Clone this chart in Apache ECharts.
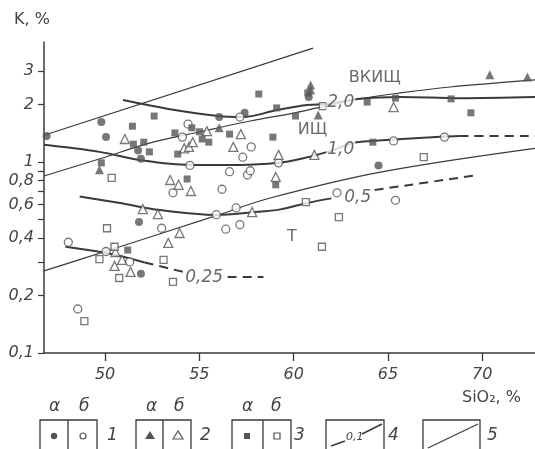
<!DOCTYPE html>
<html>
<head>
<meta charset="utf-8">
<script src="https://cdn.jsdelivr.net/npm/echarts@6/dist/echarts.min.js"></script>
<style>
html, body { margin: 0; padding: 0; background: #fff; }
#main { width: 535px; height: 449px; }
</style>
</head>
<body>
<div id="main"></div>
<script>
// точки: [SiO2, K]
var circleFilled = [[46.9,1.37],[49.8,1.62],[50.05,1.35],[51.75,1.15],[51.9,1.04],[56.05,1.72],[57.4,1.81],[60.8,2.19],[51.8,0.485],[51.9,0.26],[64.5,0.96]];
var circleOpen = [[54.4,1.58],[54.1,1.35],[57.15,1.72],[57.75,1.2],[57.3,1.06],[54.5,0.96],[59.2,0.99],[56.6,0.89],[57.55,0.855],[57.7,0.9],[56.2,0.72],[53.6,0.69],[65.3,1.29],[68.0,1.35],[62.3,0.69],[65.4,0.63],[56.95,0.575],[56.4,0.445],[57.15,0.47],[53.0,0.45],[48.05,0.38],[50.05,0.34],[51.3,0.3],[48.55,0.17],[55.9,0.53]];
var triangleFilled = [[49.7,0.91],[56.05,1.51],[60.9,2.53],[60.9,2.38],[61.3,1.76],[70.4,2.86],[72.4,2.79]];
var triangleOpen = [[51.05,1.32],[55.4,1.45],[54.2,1.18],[54.45,1.2],[54.65,1.27],[57.2,1.4],[56.8,1.2],[59.2,1.09],[61.1,1.09],[65.3,1.94],[53.45,0.805],[53.9,0.76],[54.55,0.705],[59.05,0.835],[57.8,0.547],[52.0,0.567],[52.8,0.534],[53.95,0.425],[53.35,0.377],[50.55,0.338],[50.9,0.307],[50.5,0.286],[51.35,0.266]];
var squareFilled = [[52.6,1.74],[51.45,1.54],[52.35,1.13],[52.05,1.27],[51.5,1.24],[49.8,0.99],[53.85,1.1],[53.7,1.42],[54.6,1.51],[55.15,1.32],[55.5,1.27],[55.0,1.44],[56.6,1.4],[58.15,2.27],[59.1,1.92],[60.1,1.74],[60.75,2.3],[58.9,1.35],[59.05,0.76],[54.35,0.815],[63.9,2.06],[65.4,2.16],[68.35,2.14],[69.4,1.81],[64.2,1.27],[51.2,0.346]];
var squareOpen = [[50.35,0.825],[50.1,0.45],[50.5,0.36],[49.7,0.31],[50.75,0.247],[53.1,0.307],[53.6,0.236],[48.9,0.147],[61.55,1.96],[66.9,1.06],[60.65,0.617],[62.4,0.515],[61.5,0.36]];

// границы полей (тонкие линии, 5)
var boundTop = [[46.76,1.38],[61.03,3.95]];
var boundMid = [[46.76,0.845],[49.73,1.04],[52.4,1.26],[55.04,1.44],[57.7,1.64],[60.08,1.81],[61.25,1.92],[63.5,2.14],[65.65,2.3],[68.3,2.47],[72.8,2.69]];
var boundLow = [[46.76,0.269],[50.0,0.34],[55.85,0.522],[58.75,0.648],[64.6,0.886],[72.8,1.18]];

// изолинии (4)
var iso20 = [[50.95,2.11],[53.45,1.89],[56.0,1.74],[57.27,1.72],[59.12,1.87],[60.72,1.99],[61.8,2.01],[63.4,2.14],[65.65,2.19],[68.8,2.16],[72.8,2.19]];
var iso10 = [[46.76,1.23],[49.7,1.13],[51.95,1.02],[54.5,0.965],[57.15,0.965],[59.2,0.99],[60.4,1.04],[61.8,1.13],[63.2,1.26],[64.2,1.29],[65.3,1.31],[68.0,1.36],[68.8,1.37]];
var iso10Dash = [[68.8,1.37],[72.8,1.37]];
var iso05 = [[48.65,0.66],[50.8,0.61],[52.9,0.56],[55.9,0.528],[57.8,0.545],[59.3,0.565],[60.7,0.61],[62.0,0.645]];
var iso05Dash = [[64.3,0.714],[69.8,0.855]];
var iso025 = [[47.9,0.36],[50.3,0.33],[52.1,0.298]];
var iso025Dash = [[52.1,0.298],[54.4,0.262]];
var iso025Tail = [[56.5,0.25],[58.4,0.25]];

var isoLabels = [[62.5,2.04,'2,0'],[62.5,1.16,'1,0'],[63.4,0.65,'0,5'],[55.25,0.248,'0,25']];
var fieldLabels = [[64.3,2.75,'ВКИЩ'],[61.0,1.47,'ИЩ'],[59.9,0.405,'Т']];

var xTicks = [50, 55, 60, 65, 70];
var yTicks = [0.1,0.2,0.3,0.4,0.5,0.6,0.7,0.8,0.9,1,2,3];
var yLabels = [0.1,0.2,0.4,0.6,0.8,1,2,3];

var ink = '#3a3a3a';
var font = 'DejaVu Sans';

function pointSeries(data, symbol, filled, size){
    return {
        type: 'scatter', data: data, symbol: symbol, symbolSize: size, z: 5,
        itemStyle: filled ? {color: '#555'} : {color: '#fff', borderColor: '#555', borderWidth: 1.3}
    };
}
function lineSeries(data, width, dashed){
    return {
        type: 'line', data: data, showSymbol: false, smooth: 0.35, z: 3,
        lineStyle: {color: ink, width: width, type: dashed ? [9, 6] : 'solid'}
    };
}
function txt(x, y, s, size){
    return {type: 'text', x: x, y: y, style: {text: s, fill: '#444', font: 'italic ' + (size || 17) + 'px DejaVu Sans'}};
}

var chart = echarts.init(document.getElementById('main'));

var option = {
    backgroundColor: '#fff',
    animation: false,
    grid: {left: 44, right: 0, top: 42, bottom: 96},
    xAxis: {
        type: 'value', min: 46.76, max: 72.8,
        splitLine: {show: false},
        axisLine: {lineStyle: {color: ink, width: 1.5}},
        axisTick: {customValues: xTicks, length: 8, lineStyle: {color: ink, width: 1.3}},
        axisLabel: {customValues: xTicks, margin: 14, color: '#444', fontFamily: font, fontStyle: 'italic', fontSize: 16}
    },
    yAxis: {
        type: 'log', logBase: 10, min: 0.1, max: 4.25,
        splitLine: {show: false},
        axisLine: {lineStyle: {color: ink, width: 1.5}},
        axisTick: {customValues: yTicks, length: 6, lineStyle: {color: ink, width: 1.2}},
        axisLabel: {
            customValues: yLabels, margin: 10, color: '#444', fontFamily: font, fontStyle: 'italic', fontSize: 16,
            formatter: function(v){ return String(+(+v).toFixed(2)).replace('.', ','); }
        }
    },
    series: [
        lineSeries(boundTop, 1.2), lineSeries(boundMid, 1.2), lineSeries(boundLow, 1.2),
        lineSeries(iso20, 2), lineSeries(iso10, 2), lineSeries(iso10Dash, 2, true),
        lineSeries(iso05, 2), lineSeries(iso05Dash, 2, true),
        lineSeries(iso025, 2), lineSeries(iso025Dash, 2, true), lineSeries(iso025Tail, 2, true),
        pointSeries(circleFilled, 'circle', true, 8),
        pointSeries(circleOpen, 'circle', false, 8),
        pointSeries(triangleFilled, 'triangle', true, 9),
        pointSeries(triangleOpen, 'triangle', false, 9),
        pointSeries(squareFilled, 'rect', true, 7),
        pointSeries(squareOpen, 'rect', false, 7),
        {
            type: 'scatter', data: isoLabels, symbolSize: 0, z: 8,
            label: {show: true, position: 'inside', formatter: function(p){ return p.data[2]; },
                color: '#444', fontFamily: font, fontStyle: 'italic', fontSize: 17,
                backgroundColor: '#fff', padding: [0, 1]}
        },
        {
            type: 'scatter', data: fieldLabels, symbolSize: 0, z: 8,
            label: {show: true, position: 'inside', formatter: function(p){ return p.data[2]; },
                color: '#444', fontFamily: font, fontSize: 16}
        }
    ],
    graphic: [
        {type: 'text', left: 14, top: 12, style: {text: 'K, %', fill: '#444', font: '16px DejaVu Sans'}},
        {type: 'text', left: 462, top: 390, style: {text: 'SiO₂, %', fill: '#444', font: '16px DejaVu Sans'}},
        // легенда
        {type: 'rect', shape: {x: 40, y: 420, width: 57, height: 40}, style: {fill: 'none', stroke: ink, lineWidth: 1.3}},
        {type: 'line', shape: {x1: 68, y1: 420, x2: 68, y2: 460}, style: {stroke: ink, lineWidth: 1.3}},
        {type: 'circle', shape: {cx: 54, cy: 436, r: 3.2}, style: {fill: '#555'}},
        {type: 'circle', shape: {cx: 83, cy: 436, r: 3}, style: {fill: '#fff', stroke: '#555', lineWidth: 1.2}},
        {type: 'rect', shape: {x: 136, y: 420, width: 55, height: 40}, style: {fill: 'none', stroke: ink, lineWidth: 1.3}},
        {type: 'line', shape: {x1: 163, y1: 420, x2: 163, y2: 460}, style: {stroke: ink, lineWidth: 1.3}},
        {type: 'polygon', shape: {points: [[150,431],[145,439],[155,439]]}, style: {fill: '#555'}},
        {type: 'polygon', shape: {points: [[178,431],[173,439],[183,439]]}, style: {fill: '#fff', stroke: '#555', lineWidth: 1.2}},
        {type: 'rect', shape: {x: 232, y: 420, width: 59, height: 40}, style: {fill: 'none', stroke: ink, lineWidth: 1.3}},
        {type: 'line', shape: {x1: 263, y1: 420, x2: 263, y2: 460}, style: {stroke: ink, lineWidth: 1.3}},
        {type: 'rect', shape: {x: 244, y: 433, width: 6, height: 6}, style: {fill: '#555'}},
        {type: 'rect', shape: {x: 274, y: 433, width: 6, height: 6}, style: {fill: '#fff', stroke: '#555', lineWidth: 1.2}},
        {type: 'rect', shape: {x: 326, y: 420, width: 58, height: 40}, style: {fill: 'none', stroke: ink, lineWidth: 1.3}},
        {type: 'line', shape: {x1: 331, y1: 446, x2: 345, y2: 441}, style: {stroke: ink, lineWidth: 1.6}},
        {type: 'line', shape: {x1: 362, y1: 434, x2: 382, y2: 424}, style: {stroke: ink, lineWidth: 1.6}},
        txt(346, 432, '0,1', 11),
        {type: 'rect', shape: {x: 423, y: 420, width: 57, height: 40}, style: {fill: 'none', stroke: ink, lineWidth: 1.3}},
        {type: 'line', shape: {x1: 428, y1: 448, x2: 478, y2: 424}, style: {stroke: ink, lineWidth: 1.2}},
        txt(49, 398, 'α'), txt(79, 398, 'б'),
        txt(146, 398, 'α'), txt(174, 398, 'б'),
        txt(242, 398, 'α'), txt(271, 398, 'б'),
        txt(107, 427, '1'), txt(200, 427, '2'), txt(294, 427, '3'),
        txt(388, 427, '4'), txt(487, 427, '5')
    ]
};

chart.setOption(option);
</script>
</body>
</html>
